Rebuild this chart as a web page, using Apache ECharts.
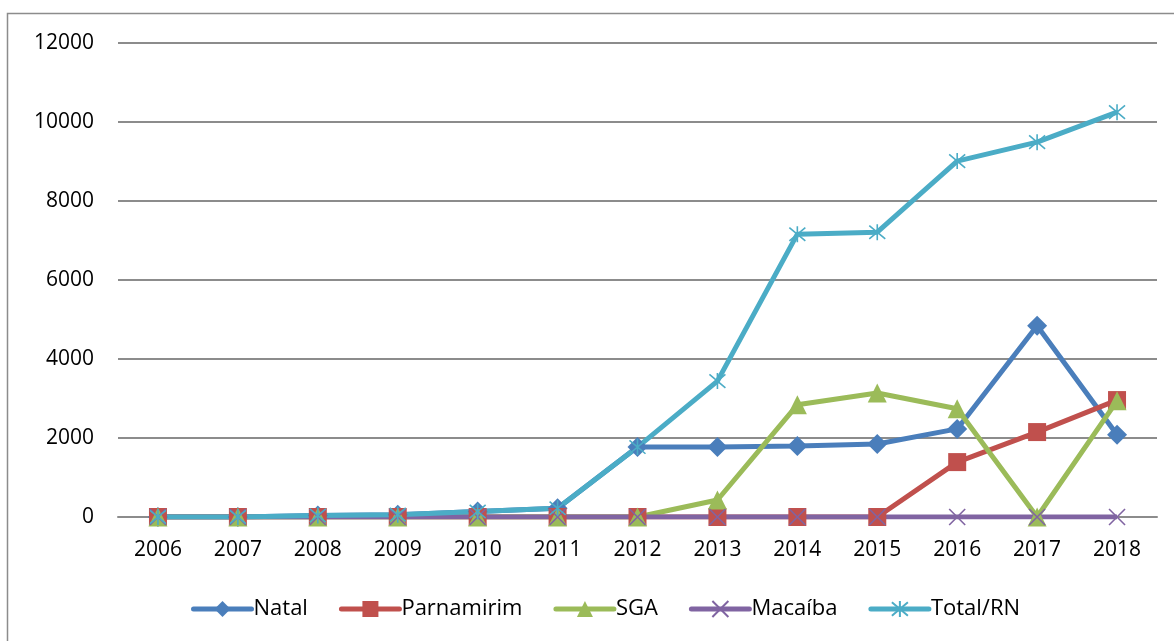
<!DOCTYPE html>
<html>
<head>
<meta charset="utf-8">
<script src="https://cdn.jsdelivr.net/npm/echarts@6/dist/echarts.min.js"></script>
<style>
  html, body { margin: 0; padding: 0; background: #fff; }
  #chart { width: 1174px; height: 641px; }
</style>
</head>
<body>
<div id="chart"></div>
<script>
// Categories (years) and series values
const years = ['2006', '2007', '2008', '2009', '2010', '2011', '2012', '2013', '2014', '2015', '2016', '2017', '2018'];
const natal      = [0, 0, 40, 60, 140, 220, 1770, 1770, 1800, 1850, 2230, 4840, 2080];
const parnamirim = [0, 0, 0, 0, 0, 0, 0, 0, 0, 0, 1390, 2150, 2960];
const sga        = [0, 0, 0, 0, 0, 0, 0, 430, 2840, 3140, 2740, 0, 2940];
const macaiba    = [0, 0, 0, 0, 0, 0, 0, 0, 0, 0, 0, 0, 0];
const totalRN    = [0, 0, 40, 60, 140, 220, 1770, 3440, 7160, 7210, 9010, 9490, 10250];
const yTicks = { min: 0, max: 12000, interval: 2000 };

const FONT = '"Open Sans", "Noto Sans", sans-serif';

const crossPath = 'path://M0,0L10,10M10,0L0,10';
const starPath = 'path://M0,0L10,10M10,0L0,10M5,-1L5,11';

function makeSeries(name, data, color, symbol, size, stroked) {
  return {
    name: name,
    type: 'line',
    data: data,
    symbol: symbol,
    symbolSize: size,
    showAllSymbol: true,
    lineStyle: { color: color, width: 5 },
    itemStyle: stroked
      ? { color: color, borderColor: color, borderWidth: 1.6 }
      : { color: color, borderWidth: 0 },
    emphasis: { disabled: true },
    animation: false
  };
}

const chart = echarts.init(document.getElementById('chart'), null, { renderer: 'canvas' });
chart.setOption({
  backgroundColor: '#ffffff',
  animation: false,
  graphic: [{
    type: 'rect',
    shape: { x: 7.5, y: 13.5, width: 1200, height: 700 },
    style: { fill: 'none', stroke: '#8c8c8c', lineWidth: 1.5 },
    silent: true,
    z: -10
  }],
  grid: { left: 118, right: 17, top: 43, bottom: 124, containLabel: false },
  legend: {
    top: 593,
    left: 186,
    itemWidth: 58,
    itemHeight: 20,
    itemGap: 31,
    lineStyle: { width: 5, cap: 'round' },
    textStyle: { fontFamily: FONT, fontSize: 22, color: '#000', padding: [0, 0, 0, -3] },
    data: ['Natal', 'Parnamirim', 'SGA', 'Macaíba', 'Total/RN']
  },
  xAxis: {
    type: 'category',
    data: years,
    boundaryGap: true,
    axisLine: { lineStyle: { color: '#8c8c8c', width: 2 } },
    axisTick: { show: false },
    axisLabel: { fontFamily: FONT, fontSize: 21, color: '#000', margin: 23 }
  },
  yAxis: {
    type: 'value',
    min: yTicks.min,
    max: yTicks.max,
    interval: yTicks.interval,
    axisLine: { show: false },
    axisTick: { show: false },
    axisLabel: {
      fontFamily: FONT, fontSize: 21, color: '#000', margin: 24,
      formatter: function (v) { return String(v); }
    },
    splitLine: { lineStyle: { color: '#8c8c8c', width: 2 } }
  },
  series: [
    makeSeries('Natal', natal, '#4a7ebb', 'diamond', 20, false),
    makeSeries('Parnamirim', parnamirim, '#c0504d', 'rect', 18, false),
    makeSeries('SGA', sga, '#9bbb59', 'triangle', 19, false),
    makeSeries('Macaíba', macaiba, '#8064a2', crossPath, 16, true),
    makeSeries('Total/RN', totalRN, '#4bacc6', starPath, 16, true)
  ]
});
</script>
</body>
</html>
